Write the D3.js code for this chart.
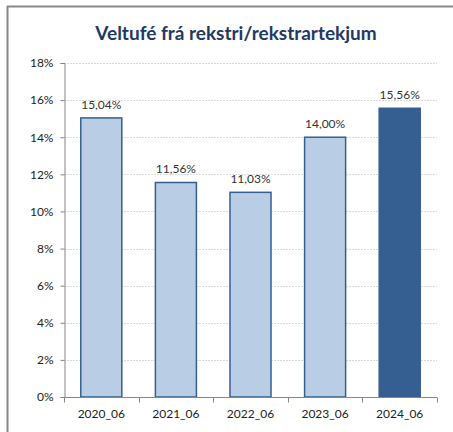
<!DOCTYPE html>
<html>
<head>
<meta charset="utf-8">
<script src="https://cdn.jsdelivr.net/npm/d3@7"></script>
<style>
  body { margin: 0; background: #fff; }
  svg { display: block; font-family: Lato, "Open Sans", sans-serif; }
</style>
</head>
<body>
<svg id="chart"></svg>
<script>
var categories = ["2020_06", "2021_06", "2022_06", "2023_06", "2024_06"];
var values = [15.04, 11.56, 11.03, 14.00, 15.56];
var yTicks = [0, 2, 4, 6, 8, 10, 12, 14, 16, 18];
var title = "Veltufé frá rekstri/rekstrartekjum";

var width = 453, height = 432;
var margin = {left: 64, right: 16, top: 63, bottom: 35};

var svg = d3.select("#chart")
  .attr("width", width)
  .attr("height", height);

// chart frame (left and top edges visible)
svg.append("line")
  .attr("x1", 7.5).attr("x2", 7.5)
  .attr("y1", 6).attr("y2", height)
  .style("stroke", "#888").style("stroke-width", 2);
svg.append("line")
  .attr("x1", 7).attr("x2", width)
  .attr("y1", 6.5).attr("y2", 6.5)
  .style("stroke", "#888").style("stroke-width", 2);

svg.append("text")
  .attr("x", 236)
  .attr("y", 40)
  .attr("text-anchor", "middle")
  .style("font-size", "19px")
  .style("font-weight", "bold")
  .style("fill", "#1f3864")
  .text(title);

var x = d3.scaleBand()
  .domain(categories)
  .range([margin.left, width - margin.right])
  .paddingInner(0.45)
  .paddingOuter(0.225);

var y = d3.scaleLinear()
  .domain([0, 18])
  .range([height - margin.bottom, margin.top]);

// gridlines
svg.append("g")
  .selectAll("line")
  .data(yTicks.filter(function (d) { return d > 0; }))
  .enter().append("line")
    .attr("x1", margin.left)
    .attr("x2", width - margin.right)
    .attr("y1", function (d) { return Math.round(y(d)) + 0.5; })
    .attr("y2", function (d) { return Math.round(y(d)) + 0.5; })
    .style("stroke", "#d9d9d9")
    .style("stroke-dasharray", "2,1");

// bars
svg.append("g")
  .selectAll("rect")
  .data(values)
  .enter().append("rect")
    .attr("x", function (d, i) { return x(categories[i]); })
    .attr("y", function (d) { return y(d); })
    .attr("width", x.bandwidth())
    .attr("height", function (d) { return y(0) - y(d); })
    .style("fill", function (d, i) { return i === values.length - 1 ? "#365f91" : "#b9cde5"; })
    .style("stroke", "#365f91")
    .style("stroke-width", 1.5);

// value labels
svg.append("g")
  .selectAll("text")
  .data(values)
  .enter().append("text")
    .attr("x", function (d, i) { return x(categories[i]) + x.bandwidth() / 2; })
    .attr("y", function (d) { return y(d) - 9; })
    .attr("text-anchor", "middle")
    .style("font-size", "12px")
    .style("fill", "#333")
    .text(function (d) { return d.toFixed(2).replace(".", ",") + "%"; });

// y axis
var yAxis = svg.append("g")
  .attr("transform", "translate(" + (margin.left + 0.5) + ",0)")
  .call(d3.axisLeft(y).tickValues(yTicks).tickSize(4).tickPadding(7)
    .tickFormat(function (d) { return d + "%"; }));
yAxis.selectAll("path, line").style("stroke", "#868686");
yAxis.selectAll("text").style("font-size", "12px").style("fill", "#222")
  .style("font-family", "Lato, 'Open Sans', sans-serif");

// x axis with ticks at category boundaries
var xAxis = svg.append("g")
  .attr("transform", "translate(0," + (y(0) + 0.5) + ")");
xAxis.append("line")
  .attr("x1", margin.left).attr("x2", width - margin.right)
  .style("stroke", "#868686");
var step = x.step();
xAxis.selectAll("line.tick")
  .data(d3.range(categories.length + 1))
  .enter().append("line")
    .attr("class", "tick")
    .attr("x1", function (i) { return Math.round(margin.left + i * step) + 0.5; })
    .attr("x2", function (i) { return Math.round(margin.left + i * step) + 0.5; })
    .attr("y1", 0).attr("y2", 5)
    .style("stroke", "#868686");
xAxis.selectAll("text")
  .data(categories)
  .enter().append("text")
    .attr("x", function (d) { return x(d) + x.bandwidth() / 2; })
    .attr("y", 20)
    .attr("text-anchor", "middle")
    .style("font-size", "12px")
    .style("fill", "#222")
    .text(function (d) { return d; });
</script>
</body>
</html>
